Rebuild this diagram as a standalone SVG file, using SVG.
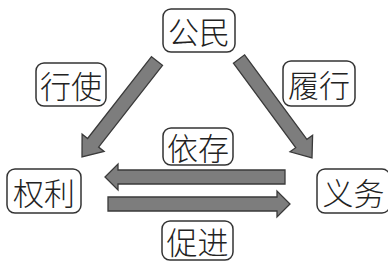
<svg xmlns="http://www.w3.org/2000/svg" width="388" height="263" viewBox="0 0 388 263">
<style>
.box{fill:#fff;stroke:#333;stroke-width:1.5}
.lbl{font-family:"Noto Sans CJK SC","Noto Sans CJK JP",sans-serif;font-size:31px;font-weight:300;fill:#222;text-anchor:middle;dominant-baseline:central}
.arr{fill:#7d7d7d;stroke:#3a3a3a;stroke-width:1.3;stroke-linejoin:miter}
</style>
<rect width="388" height="263" fill="#fff"/>
<g id="connectors">
<polygon class="arr" points="151.5,56.7 162.5,65.3 98.6,147.1 104.1,151.4 82,157 82.1,134.2 87.6,138.5"/>
<polygon class="arr" points="233.4,63.2 244.6,54.8 306.9,139.3 312.6,135.2 312,158 290,151.8 295.7,147.7"/>
<polygon class="arr" points="285,170 285,184 118,184 118,190 105,177 118,164 118,170"/>
<polygon class="arr" points="108,197 277,197 277,191 290,204 277,217 277,211 108,211"/>
</g>
<g id="gongmin"><rect class="box" x="163" y="9" width="72" height="43" rx="8"/><text class="lbl" x="199" y="30.5">公民</text></g>
<g id="xingshi"><rect class="box" x="36" y="63" width="70" height="43" rx="8"/><text class="lbl" x="71" y="84.5">行使</text></g>
<g id="lvxing"><rect class="box" x="283" y="61" width="72" height="45" rx="8"/><text class="lbl" x="319" y="83.5">履行</text></g>
<g id="yicun"><rect class="box" x="163" y="128" width="70" height="37" rx="8"/><text class="lbl" x="198" y="146.5">依存</text></g>
<g id="quanli"><rect class="box" x="7" y="169" width="74" height="44" rx="8"/><text class="lbl" x="44" y="191">权利</text></g>
<g id="yiwu"><rect class="box" x="317" y="169" width="73" height="44" rx="8"/><text class="lbl" x="353.5" y="191">义务</text></g>
<g id="cujin"><rect class="box" x="162" y="221" width="71" height="39" rx="8"/><text class="lbl" x="197.5" y="240.5">促进</text></g>
</svg>
